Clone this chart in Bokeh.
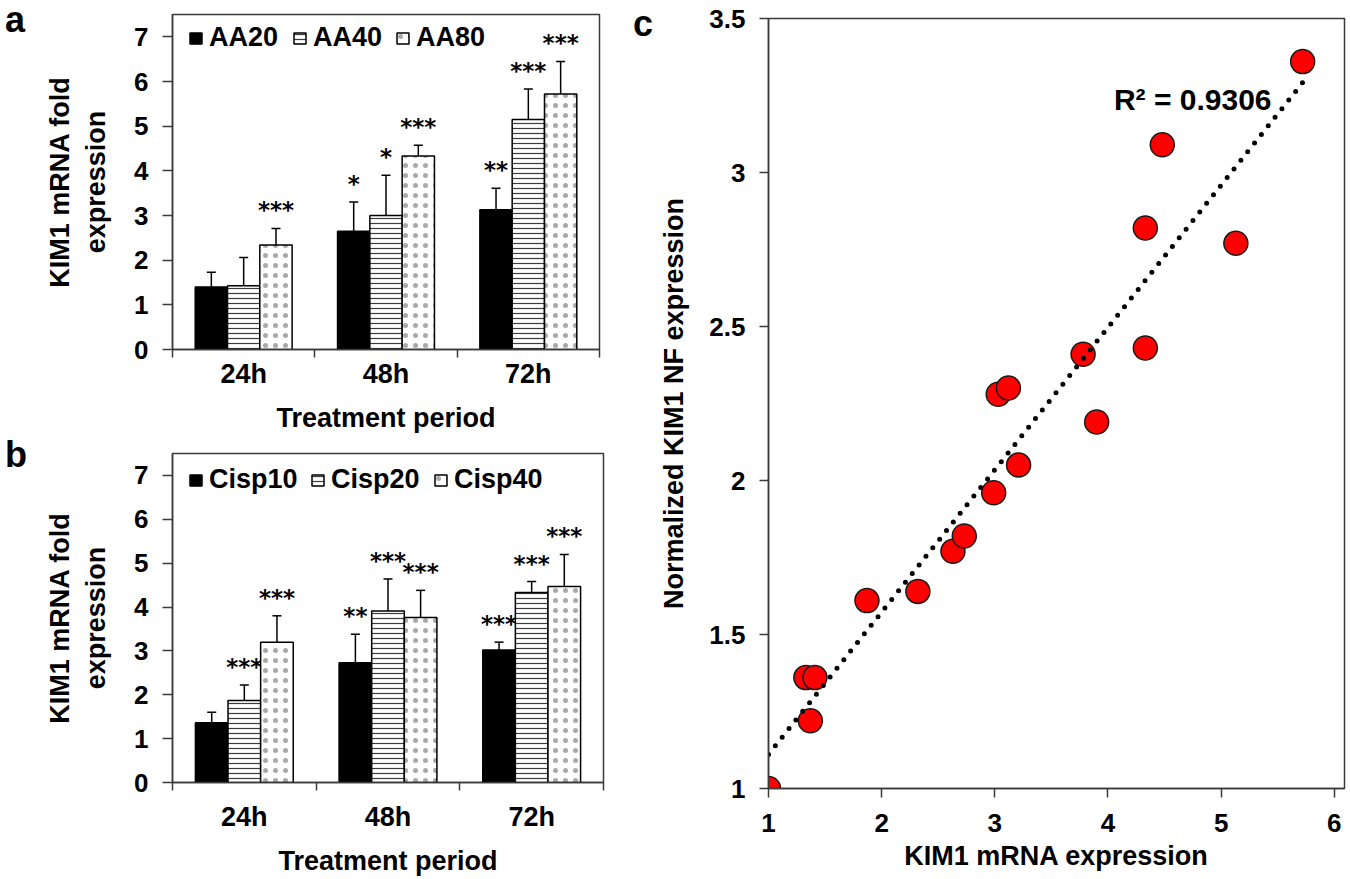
import numpy as np
from bokeh.plotting import figure
from bokeh.models import (Range1d, FixedTicker, Whisker, TeeHead, Div,
                          ColumnDataSource, Legend, LegendItem, Label)
from bokeh.layouts import row, column
from bokeh.embed import file_html
from bokeh.resources import INLINE
from bokeh.core.properties import value

# ---------------- data ----------------
periods = ["24h", "48h", "72h"]
bar_yticks = [0, 1, 2, 3, 4, 5, 6, 7]

aa_names = ["AA20", "AA40", "AA80"]
aa20_mean = [1.40, 2.65, 3.13]
aa20_sd = [0.33, 0.65, 0.48]
aa20_sig = ["", "*", "**"]
aa40_mean = [1.43, 3.00, 5.15]
aa40_sd = [0.63, 0.90, 0.68]
aa40_sig = ["", "*", "***"]
aa80_mean = [2.34, 4.33, 5.72]
aa80_sd = [0.37, 0.24, 0.73]
aa80_sig = ["***", "***", "***"]

cisp_names = ["Cisp10", "Cisp20", "Cisp40"]
cisp10_mean = [1.36, 2.73, 3.02]
cisp10_sd = [0.24, 0.65, 0.18]
cisp10_sig = ["", "**", "***"]
cisp20_mean = [1.87, 3.91, 4.33]
cisp20_sd = [0.35, 0.73, 0.25]
cisp20_sig = ["***", "***", "***"]
cisp40_mean = [3.20, 3.76, 4.47]
cisp40_sd = [0.60, 0.62, 0.73]
cisp40_sig = ["***", "***", "***"]

kim1_mrna = [1.00, 1.37, 1.33, 1.41, 1.87, 2.32, 2.63, 2.73, 2.99, 3.21,
             3.03, 3.12, 3.78, 3.90, 4.33, 4.33, 4.48, 5.13, 5.72]
kim1_nf = [1.00, 1.22, 1.36, 1.36, 1.61, 1.64, 1.77, 1.82, 1.96, 2.05,
           2.28, 2.30, 2.41, 2.19, 2.43, 2.82, 3.09, 2.77, 3.36]
r2_text = "R² = 0.9306"
c_xticks = [1, 2, 3, 4, 5, 6]
c_yticks = [1, 1.5, 2, 2.5, 3, 3.5]

# ---------------- style ----------------
FONT = "Liberation Sans"
AX = "#3a3a3a"
BAR_STYLES = [
    dict(fill_color="black"),
    dict(fill_color="white", hatch_pattern="horizontal_line", hatch_color="#3c3c3c",
         hatch_scale=5, hatch_weight=1.2),
    dict(fill_color="white", hatch_pattern="dot", hatch_color="#8c8c8c",
         hatch_scale=10, hatch_weight=1, hatch_alpha=0.75),
]


def style_axis(ax, size="26px"):
    ax.major_label_text_font = FONT
    ax.major_label_text_font_style = "bold"
    ax.major_label_text_font_size = size
    ax.major_label_text_color = "black"
    ax.axis_line_color = AX
    ax.axis_line_width = 1.5
    ax.major_tick_line_color = AX
    ax.major_tick_line_width = 1.5
    ax.minor_tick_line_color = None
    ax.major_tick_in = 0
    ax.axis_label_text_font = FONT
    ax.axis_label_text_font_style = "bold"
    ax.axis_label_text_font_size = "27px"
    ax.axis_label_text_color = "black"


def letter_div(letter, W, H, left, top):
    html = ('<div style="position:relative; left:%dpx; top:%dpx; '
            'font-family:\'Liberation Sans\', Arial, sans-serif; font-weight:bold; '
            'font-size:36px; line-height:36px; color:#000;">%s</div>' % (left, top, letter))
    return Div(text=html, width=W, height=H, margin=0)


def bar_panel(names, means, sds, sigs, W, H, bl, br, bt, bb, legend_top, legend_x,
              tick_standoff, title_standoff):
    fh = H - bt - bb
    p = figure(width=W, height=H, x_range=Range1d(0, len(periods)), y_range=Range1d(0, 7.5),
               output_backend="svg", toolbar_location=None,
               min_border_left=bl, min_border_right=br, min_border_top=bt,
               min_border_bottom=bb, background_fill_color="white",
               border_fill_color="white")
    p.grid.visible = False
    p.outline_line_color = AX
    p.outline_line_width = 1.5

    ya = p.yaxis[0]
    ya.ticker = FixedTicker(ticks=bar_yticks)
    style_axis(ya)
    ya.major_tick_out = 10
    ya.major_label_standoff = 14
    ya.axis_label = "KIM1 mRNA fold\nexpression"
    ya.axis_label_standoff = 20

    centers = np.arange(len(periods)) + 0.5
    xa = p.xaxis[0]
    xa.ticker = FixedTicker(ticks=list(centers),
                            minor_ticks=list(range(len(periods) + 1)))
    xa.major_label_overrides = {float(c): lab for c, lab in zip(centers, periods)}
    style_axis(xa, size="27px")
    xa.major_tick_line_color = None
    xa.major_tick_out = 0
    xa.minor_tick_line_color = AX
    xa.minor_tick_line_width = 1.5
    xa.minor_tick_out = 8
    xa.minor_tick_in = 0
    xa.major_label_standoff = tick_standoff
    xa.axis_label = "Treatment period"
    xa.axis_label_standoff = title_standoff

    bw = 0.227
    n = len(names)
    for j in range(n):
        m = np.array(means[j])
        s = np.array(sds[j])
        xs = centers + (j - (n - 1) / 2) * bw
        src = ColumnDataSource(dict(x=xs, top=m, upper=m + s, sig=sigs[j]))
        r = p.vbar(x="x", top="top", bottom=0, width=bw, source=src,
                   line_color="black", line_width=1.5, **BAR_STYLES[j])
        p.add_layout(Whisker(source=src, base="x", lower="top", upper="upper",
                             dimension="height", line_color="black", line_width=1.5,
                             upper_head=TeeHead(size=9, line_color="black", line_width=1.5),
                             lower_head=None, level="overlay"))
        p.text(x="x", y="upper", text="sig", source=src, text_font=value("DejaVu Sans"),
               text_font_style="bold", text_font_size="23px", text_align="center",
               text_baseline="alphabetic", y_offset=-18, text_color="black")
        leg = Legend(items=[LegendItem(label=names[j], renderers=[r])],
                     location=(legend_x[j], fh - legend_top - 24),
                     border_line_color=None, background_fill_alpha=0, padding=0, margin=0,
                     label_text_font=FONT, label_text_font_style="bold",
                     label_text_color="black", label_text_font_size="27px",
                     glyph_width=15, glyph_height=14, label_standoff=6)
        p.add_layout(leg)
    return p


la = letter_div("a", 30, 435, 5, 2)
pa = bar_panel(aa_names, [aa20_mean, aa40_mean, aa80_mean], [aa20_sd, aa40_sd, aa80_sd],
               [aa20_sig, aa40_sig, aa80_sig], 590, 435, 142, 21, 14, 78, 23,
               [16, 120, 223], 1, 11)
lb = letter_div("b", 30, 443, 5, 2)
pb = bar_panel(cisp_names, [cisp10_mean, cisp20_mean, cisp40_mean],
               [cisp10_sd, cisp20_sd, cisp40_sd], [cisp10_sig, cisp20_sig, cisp40_sig],
               590, 443, 142, 17, 18, 88, 26, [16, 138, 261], 11, 11)

# ---------------- panel c ----------------
lc = letter_div("c", 36, 878, 13, 6)
pc = figure(width=693, height=878, x_range=Range1d(1, 6.09), y_range=Range1d(1, 3.5),
            output_backend="svg", toolbar_location=None,
            min_border_left=111, min_border_right=5, min_border_top=18,
            min_border_bottom=90, background_fill_color="white", border_fill_color="white")
pc.grid.visible = False
pc.outline_line_color = AX
pc.outline_line_width = 1.5
xc = pc.xaxis[0]
xc.ticker = FixedTicker(ticks=c_xticks)
style_axis(xc)
xc.major_tick_out = 9
xc.major_label_standoff = 16
xc.axis_label = "KIM1 mRNA expression"
xc.axis_label_standoff = 6
yc = pc.yaxis[0]
yc.ticker = FixedTicker(ticks=c_yticks)
yc.major_label_overrides = {float(t): f"{t:g}" for t in c_yticks}
style_axis(yc)
yc.major_tick_out = 9
yc.major_label_standoff = 14
yc.axis_label = "Normalized KIM1 NF expression"
yc.axis_label_standoff = 17

pc.scatter(kim1_mrna, kim1_nf, size=24, fill_color="#ff0000", line_color="#1a1a1a",
           line_width=1.5)
slope, intercept = np.polyfit(kim1_mrna, kim1_nf, 1)
tx = np.array([min(kim1_mrna), max(kim1_mrna)])
pc.line(tx, slope * tx + intercept, line_color="black", line_width=5,
        line_dash="0 11", line_cap="round")

pc.add_layout(Label(x=503, y=689, x_units="screen", y_units="screen", text=r2_text,
                    text_font=FONT, text_font_style="bold", text_font_size="30px",
                    text_color="black", text_align="right", text_baseline="alphabetic"))

layout = row(column(row(la, pa), row(lb, pb)), lc, pc)
open("out.html", "w").write(file_html(layout, INLINE, "KIM1 expression"))
